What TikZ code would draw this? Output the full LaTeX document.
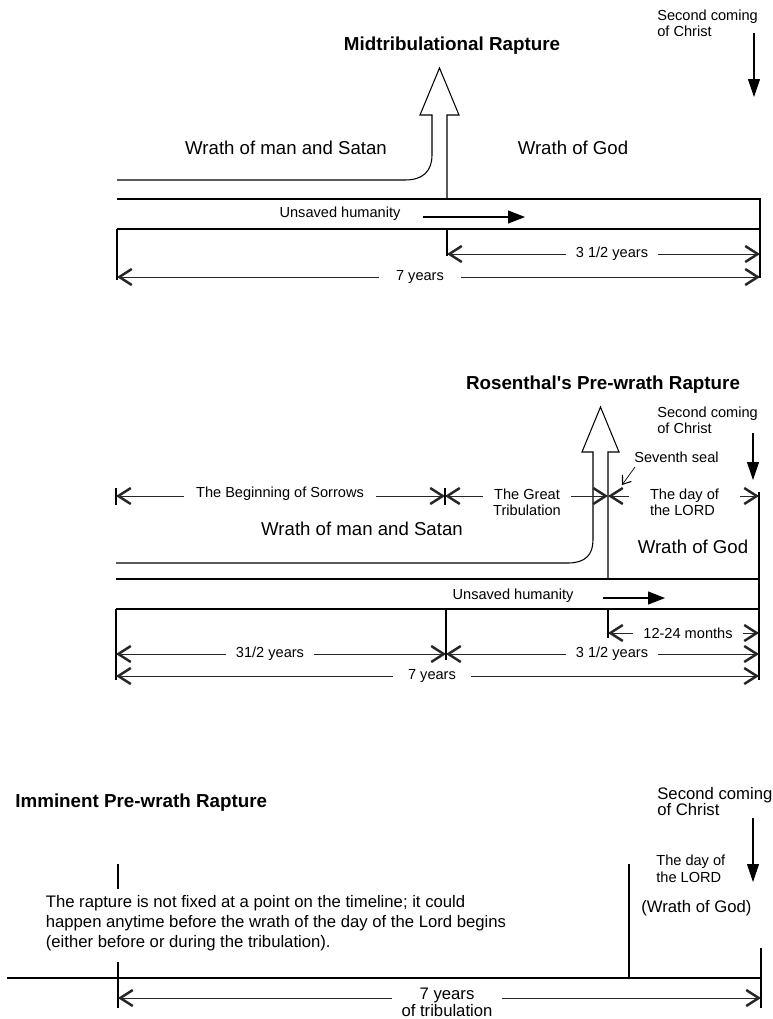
\documentclass[tikz,border=0pt]{standalone}
\usepackage{fontspec}
\setmainfont{Liberation Sans}
\usetikzlibrary{arrows.meta,positioning}

\begin{document}
\begin{tikzpicture}[x=0.02cm, y=-0.02cm,
    lbl/.style={font=\fontsize{8.3}{9.1}\selectfont, align=left, inner sep=0pt},
    big/.style={font=\fontsize{10.6}{12.5}\selectfont, inner sep=0pt},
    ptitle/.style={font=\fontsize{10.7}{13}\selectfont\bfseries, inner sep=0pt},
    note/.style={font=\fontsize{9.5}{#1}\selectfont, align=left, inner sep=0pt},
    note/.default={11.4},
    gap/.style={fill=white, inner xsep=#1, inner ysep=1pt},
    gap/.default={0.2cm},
    line/.style={line width=0.6pt},
    band/.style={line width=0.8pt},
    dimarr/.style={{Straight Barb[length=0.25cm,width=0.32cm,line width=1.4pt]}-{Straight Barb[length=0.25cm,width=0.32cm,line width=1.4pt]}, line width=0.45pt, draw=black!85},
    comearr/.style={-{Triangle[length=0.36cm,width=0.24cm]}, line width=0.6pt},
    flowarr/.style={-{Triangle[length=0.34cm,width=0.26cm]}, line width=0.6pt},
    sealarr/.style={-{Straight Barb[length=0.15cm,width=0.22cm,line width=0.6pt]}, line width=0.4pt},
]
\useasboundingbox (0,0) rectangle (773,1019);

% ===== MIDTRIBULATIONAL =====
\node[ptitle] (title1) at (452,46) {Midtribulational Rapture};
\node[lbl, anchor=west] (come1) at (657,23.5) {Second coming\\of Christ};
\node[big] (man1) at (286,148) {Wrath of man and Satan};
\node[big] (god1) at (573,148) {Wrath of God};
\node[lbl] (uns1) at (340,214) {Unsaved humanity};

\coordinate (c1a) at (754,33);  \coordinate (c1b) at (754,97);
\coordinate (u1a) at (423,217); \coordinate (u1b) at (525,217);
\coordinate (b1L) at (117,229); \coordinate (b1M) at (447,229); \coordinate (b1R) at (760,229);

\draw[band] (117,199) -- (760,199) -- (760,278);
\draw[band] (b1L) -- (b1R);
\draw[line] (b1L) -- (117,280);
\draw[line] (b1M) -- (447,256);
\draw[line] (117,180) -- (405,180) .. controls (422,180) and (432,172) .. (432,155)
    -- (432,115) -- (420,115) -- (439.5,68) -- (459,115) -- (447,115) -- (447,199);

\draw[dimarr] (447,254) -- (760,254);
\node[lbl, gap] (half1) at (612,254) {3 1/2 years};
\draw[dimarr] (117,277) -- (760,277);
\node[lbl, gap=0.34cm] (seven1) at (420,277) {7 years};

% ===== ROSENTHAL =====
\node[ptitle] (title2) at (603,385) {Rosenthal\textquotesingle s Pre-wrath Rapture};
\node[lbl, anchor=west] (come2) at (657,420.5) {Second coming\\of Christ};
\node[lbl, anchor=west] (seal) at (634,457) {Seventh seal};
\node[big] (man2) at (362,529) {Wrath of man and Satan};
\node[big] (god2) at (693,547) {Wrath of God};
\node[lbl] (uns2) at (513,596) {Unsaved humanity};

\coordinate (c2a) at (753,433); \coordinate (c2b) at (753,480);
\coordinate (s2a) at (635,467); \coordinate (s2b) at (622,485);
\coordinate (u2a) at (603,598); \coordinate (u2b) at (665,598);
\coordinate (b2L) at (116,609); \coordinate (b2M) at (446,609);
\coordinate (b2S) at (608,609); \coordinate (b2R) at (759,609);

\draw[band] (116,579) -- (759,579);
\draw[band] (b2L) -- (b2R);
\draw[line] (759,492) -- (759,680);
\draw[line] (b2L) -- (116,680);
\draw[line] (b2M) -- (446,660);
\draw[line] (b2S) -- (608,638);
\draw[line] (116,563) -- (568,563) .. controls (585,563) and (593,555) .. (593,540)
    -- (593,452) -- (582,452) -- (600.5,407) -- (619,452) -- (608,452) -- (608,579);

\draw[line] (116,488) -- (116,505);
\draw[line] (445,488) -- (445,505);
\draw[dimarr] (116,496) -- (445,496);
\node[lbl, gap=0.24cm] (sorrow) at (280,494) {The Beginning of Sorrows};
\draw[dimarr] (445,496) -- (608,496);
\node[lbl, gap, align=center] (great) at (527,502) {The Great\\Tribulation};
\draw[dimarr] (608,496) -- (759,496);
\node[lbl, gap=0.42cm] (day2) at (684.5,502) {The day of\\the LORD};

\draw[dimarr] (608,633) -- (759,633);
\node[lbl, gap] (months) at (688,633) {12-24 months};
\draw[dimarr] (116,654) -- (446,654);
\node[lbl, gap] (first2) at (270,654) {31/2 years};
\draw[dimarr] (446,654) -- (759,654);
\node[lbl, gap] (half2) at (612,654) {3 1/2 years};
\draw[dimarr] (116,676) -- (759,676);
\node[lbl, gap=0.3cm] (seven2) at (432,676) {7 years};

% ===== IMMINENT =====
\node[ptitle, anchor=west] (title3) at (15,803) {Imminent Pre-wrath Rapture};
\node[note=9.6, anchor=west] (come3) at (657,801.5) {Second coming\\of Christ};
\node[lbl, font=\fontsize{8.3}{9.6}\selectfont, anchor=west] (day3) at (656,868.5) {The day of\\the LORD};
\node[note, anchor=west] (god3) at (641,908) {(Wrath of God)};
\node[note, anchor=west] (para) at (45.5,923) {The rapture is not fixed at a point on the timeline; it could\\happen anytime before the wrath of the day of the Lord begins\\(either before or during the tribulation).};

\coordinate (c3a) at (753,818); \coordinate (c3b) at (753,882);
\coordinate (t3L) at (7,978); \coordinate (t3D) at (629,978); \coordinate (t3R) at (761,978);

\draw[band] (t3L) -- (t3R);
\draw[line] (629,864) -- (t3D);
\draw[line] (118,864) -- (118,889);
\draw[line] (118,962) -- (118,1008);
\draw[line] (761,948) -- (761,1008);
\draw[dimarr] (118,998) -- (761,998);
\node[note=6.8, gap, inner ysep=0pt, align=center] (seven3) at (447,1002) {7 years\\of tribulation};

% ===== ARROWS =====
\draw[comearr] (c1a) -- (c1b);
\draw[flowarr] (u1a) -- (u1b);
\draw[comearr] (c2a) -- (c2b);
\draw[sealarr] (s2a) -- (s2b);
\draw[flowarr] (u2a) -- (u2b);
\draw[comearr] (c3a) -- (c3b);

\end{tikzpicture}
\end{document}
